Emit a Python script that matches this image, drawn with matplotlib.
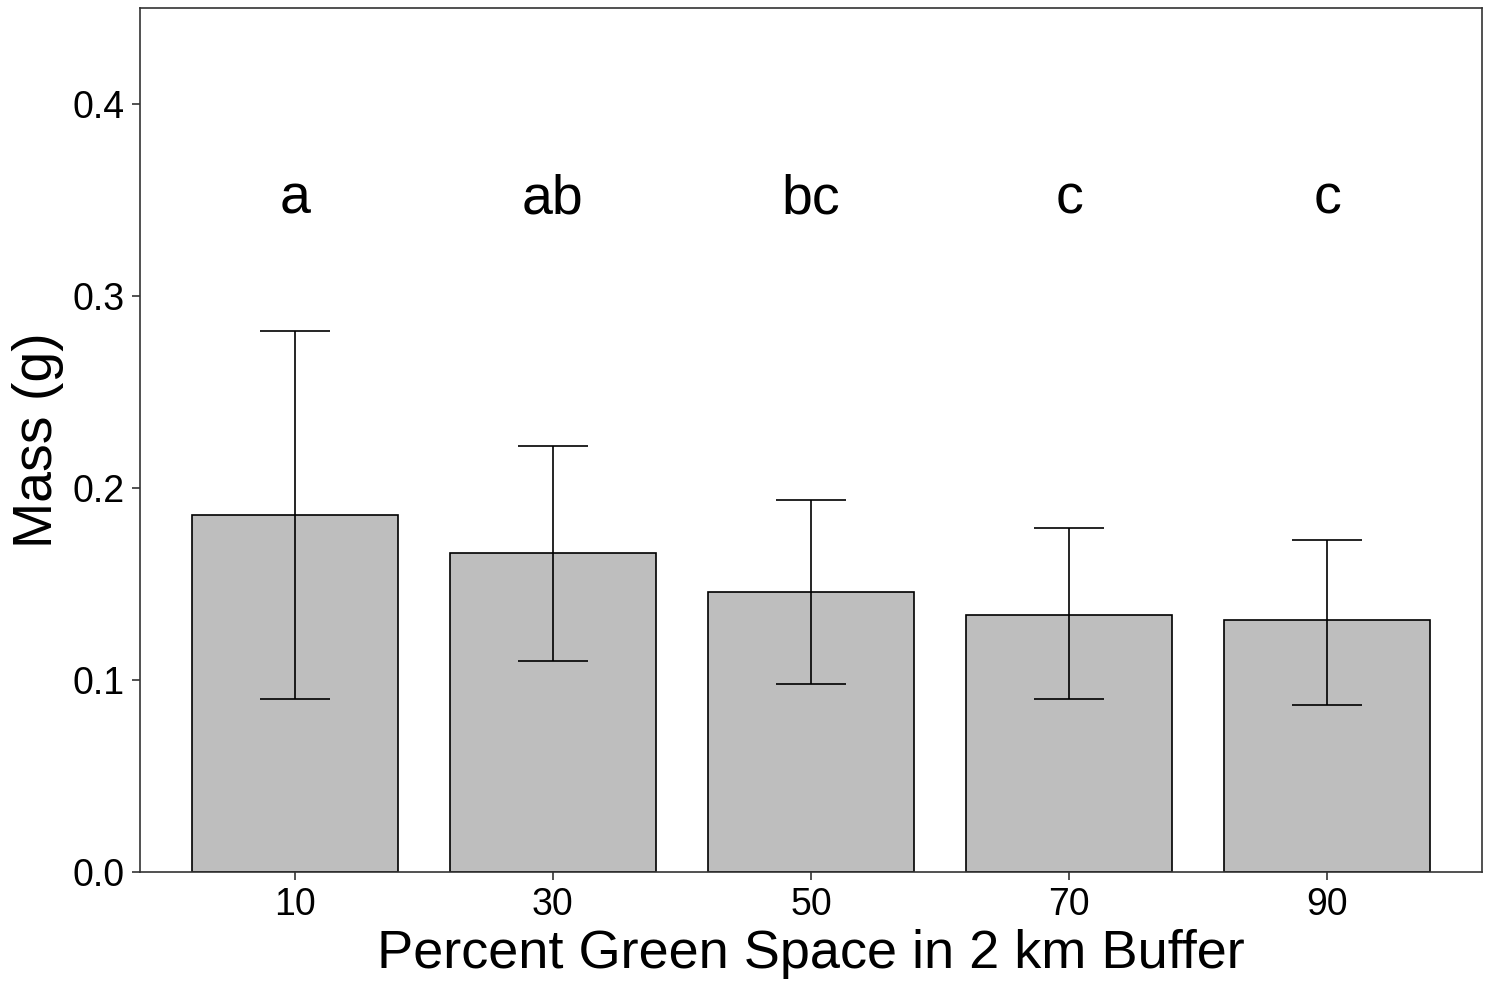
import numpy as np
import matplotlib
matplotlib.use('Agg')
import matplotlib.pyplot as plt

plt.rcParams['font.family'] = ['Liberation Sans', 'DejaVu Sans']

# percent green space classes and mean mass with error bar limits
kategorije = ['10', '30', '50', '70', '90']
masa = [0.186, 0.166, 0.146, 0.134, 0.131]
zgornja = [0.282, 0.222, 0.194, 0.179, 0.173]
spodnja = [0.090, 0.110, 0.098, 0.090, 0.087]
crke = ['a', 'ab', 'bc', 'c', 'c']

fig = plt.figure(figsize=(14.86, 9.84), dpi=100)
ax = fig.add_axes([0.0942, 0.1138, 0.9031, 0.8781])

x = np.arange(1, len(kategorije) + 1)
ax.bar(x, masa, width=0.8, color='#BEBEBE', edgecolor='black', linewidth=1.2, zorder=2)
masa_arr = np.array(masa)
yerr = [masa_arr - np.array(spodnja), np.array(zgornja) - masa_arr]
ax.errorbar(x, masa, yerr=yerr, fmt='none', ecolor='black', elinewidth=1.2,
            capsize=25, capthick=1.2, zorder=3)

for xi, c in zip(x, crke):
    ax.text(xi, 0.35, c, ha='center', va='center', fontsize=40)

ax.set_xlim(0.4, 5.6)
ax.set_ylim(0, 0.45)
ax.set_xticks(x)
ax.set_xticklabels(kategorije)
ax.set_yticks([0.0, 0.1, 0.2, 0.3, 0.4])
ax.set_yticklabels(['0.0', '0.1', '0.2', '0.3', '0.4'])
ax.tick_params(labelsize=27, length=6, width=1.2, color='#333333', labelcolor='black', pad=5)
for s in ax.spines.values():
    s.set_color('#333333')
    s.set_linewidth(1.2)

ax.set_xlabel('Percent Green Space in 2 km Buffer', fontsize=39, labelpad=4)
ax.set_ylabel('Mass (g)', fontsize=40, labelpad=6)

fig.savefig('out.png', dpi=100)
